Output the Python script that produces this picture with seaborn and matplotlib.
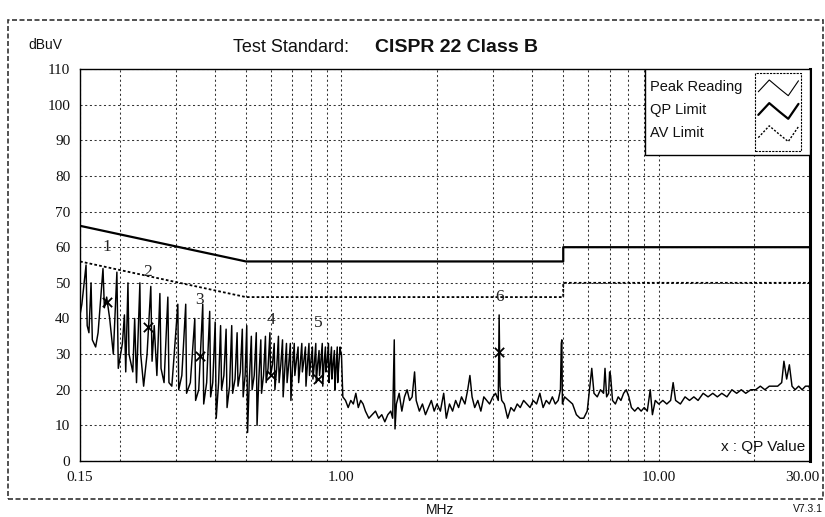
import numpy as np
import pandas as pd
import matplotlib
matplotlib.use("Agg")
import matplotlib.pyplot as plt
import matplotlib.ticker as mticker
import matplotlib.transforms as mtransforms
from matplotlib.patches import Rectangle
from matplotlib.lines import Line2D
import seaborn as sns

# ---------------- data ----------------
# Peak reading trace, band 0.15 - 0.39 MHz
band_a_freq = [0.150, 0.152, 0.1567, 0.158, 0.160, 0.1625, 0.164, 0.168, 0.171, 0.1772,
               0.179, 0.182, 0.186, 0.191, 0.196, 0.198, 0.204, 0.207, 0.209, 0.2124,
               0.214, 0.220, 0.223, 0.226, 0.2316, 0.233, 0.238, 0.244, 0.2507, 0.253,
               0.257, 0.262, 0.2678, 0.270, 0.276, 0.2837, 0.286, 0.292, 0.296, 0.305,
               0.307, 0.314, 0.323, 0.325, 0.334, 0.345, 0.347, 0.355, 0.3655, 0.368,
               0.376, 0.3844, 0.387]
band_a_db = [41, 44, 55, 38, 36, 50, 34, 32, 36, 54,
             43, 46, 40, 30, 53, 26, 33, 41, 25, 50,
             30, 25, 40, 22, 50, 30, 21, 30, 49, 28,
             38, 24, 47, 26, 22, 46, 22, 21, 28, 44,
             20, 24, 44, 19, 22, 40, 17, 20, 44, 16,
             22, 42, 18]

# band 0.39 - 1.0 MHz
band_b_freq = [0.393, 0.400, 0.403, 0.410, 0.416, 0.419, 0.426, 0.433, 0.436, 0.444,
               0.451, 0.454, 0.462, 0.469, 0.472, 0.480, 0.487, 0.490, 0.497, 0.503,
               0.506, 0.512, 0.520, 0.523, 0.531, 0.539, 0.542, 0.549, 0.557, 0.560,
               0.568, 0.576, 0.579, 0.587, 0.595, 0.598, 0.606, 0.614, 0.617, 0.625,
               0.633, 0.636, 0.644, 0.652, 0.655, 0.663, 0.671, 0.674, 0.682, 0.690,
               0.693, 0.701, 0.710, 0.713, 0.721, 0.730, 0.733, 0.741, 0.750, 0.753,
               0.761, 0.770, 0.773, 0.781, 0.790, 0.793, 0.801, 0.810, 0.813, 0.821,
               0.830, 0.833, 0.841, 0.850, 0.853, 0.861, 0.870, 0.873, 0.881, 0.890,
               0.893, 0.901, 0.910, 0.913, 0.921, 0.930, 0.933, 0.941, 0.950, 0.953,
               0.961, 0.970, 0.973, 0.981, 0.990, 0.996]
band_b_db = [22, 39, 12, 22, 38, 20, 24, 37, 15, 21,
             38, 19, 23, 36, 21, 25, 37, 18, 24, 38,
             8, 22, 35, 20, 24, 36, 10, 23, 34, 19,
             24, 35, 22, 26, 36, 24, 27, 33, 20, 26,
             35, 22, 27, 34, 18, 26, 33, 22, 27, 33,
             17, 26, 33, 24, 28, 32, 22, 27, 33, 25,
             28, 32, 21, 27, 33, 24, 28, 32, 23, 27,
             33, 22, 27, 31, 24, 28, 33, 21, 27, 32,
             25, 28, 33, 22, 27, 32, 23, 27, 31, 20,
             26, 32, 22, 27, 32, 30]

# band 1.0 - 5.0 MHz
band_c_freq = [1.00, 1.01, 1.03, 1.05, 1.07, 1.09, 1.11, 1.13, 1.15, 1.17,
               1.19, 1.22, 1.25, 1.28, 1.31, 1.34, 1.37, 1.40, 1.43, 1.45,
               1.467, 1.475, 1.49, 1.52, 1.55, 1.58, 1.61, 1.64, 1.67, 1.70,
               1.72, 1.76, 1.80, 1.84, 1.88, 1.92, 1.96, 2.00, 2.05, 2.10,
               2.14, 2.19, 2.24, 2.29, 2.34, 2.39, 2.45, 2.50, 2.54, 2.58,
               2.63, 2.69, 2.75, 2.81, 2.87, 2.93, 3.00, 3.06, 3.12, 3.14,
               3.16, 3.20, 3.26, 3.34, 3.42, 3.50, 3.58, 3.66, 3.75, 3.84,
               3.93, 4.02, 4.12, 4.22, 4.32, 4.42, 4.52, 4.62, 4.72, 4.82,
               4.90, 4.93, 4.95, 4.97]
band_c_db = [30, 18, 17, 15, 17, 16, 19, 15, 17, 16,
             14, 12, 13, 14, 12, 13, 11, 13, 14, 12,
             34, 9, 16, 19, 14, 18, 20, 17, 18, 25,
             17, 14, 16, 13, 15, 17, 14, 16, 14, 19,
             12, 16, 14, 17, 15, 18, 16, 20, 24, 18,
             15, 17, 14, 18, 17, 16, 18, 19, 17, 41,
             21, 17, 16, 12, 15, 14, 16, 15, 17, 16,
             15, 17, 16, 19, 15, 17, 16, 18, 16, 17,
             20, 33, 34, 16]

# band 5.0 - 30 MHz
band_d_freq = [5.05, 5.20, 5.35, 5.50, 5.65, 5.80, 5.95, 6.05, 6.15, 6.25,
               6.40, 6.55, 6.70, 6.77, 6.85, 6.95, 7.00, 7.05, 7.15, 7.30,
               7.45, 7.60, 7.75, 7.90, 8.05, 8.20, 8.40, 8.60, 8.80, 9.00,
               9.20, 9.40, 9.55, 9.75, 10.0, 10.3, 10.6, 10.9, 11.1, 11.3,
               11.7, 12.1, 12.5, 12.9, 13.3, 13.8, 14.3, 14.8, 15.3, 15.8,
               16.4, 17.0, 17.6, 18.2, 18.8, 19.5, 20.2, 20.9, 21.6, 22.3,
               23.0, 23.7, 24.4, 24.8, 25.3, 25.8, 26.3, 26.9, 27.6, 28.3,
               29.0, 29.7, 30.0]
band_d_db = [18, 17, 16, 13, 12, 12, 14, 20, 26, 19,
             18, 20, 19, 26, 18, 19, 25, 24, 17, 16,
             18, 17, 19, 20, 18, 15, 14, 15, 14, 15,
             14, 20, 13, 17, 16, 17, 16, 17, 22, 17,
             16, 18, 17, 18, 17, 19, 18, 19, 18, 19,
             18, 20, 19, 20, 19, 20, 20, 21, 20, 21,
             21, 21, 22, 28, 23, 27, 21, 20, 21, 20,
             21, 21, 20]

# CISPR 22 Class B limits
limit_freq = [0.15, 0.5, 0.5, 5.0, 5.0, 30.0]
qp_limit_db = [66, 56, 56, 56, 60, 60]
av_limit_db = [56, 46, 46, 46, 50, 50]

# QP measured values
qp_freq = [0.182, 0.245, 0.358, 0.60, 0.846, 3.14]
qp_db = [44.5, 37.5, 29.5, 24.0, 23.0, 30.5]
qp_labels = ["1", "2", "3", "4", "5", "6"]

y_ticks = [0, 10, 20, 30, 40, 50, 60, 70, 80, 90, 100, 110]
x_ticks = [0.15, 1.0, 10.0, 30.0]
x_tick_labels = ["0.15", "1.00", "10.00", "30.00"]

# ---------------- build frames ----------------
peak_df = pd.DataFrame({
    "freq": band_a_freq + band_b_freq + band_c_freq + band_d_freq,
    "dbuv": band_a_db + band_b_db + band_c_db + band_d_db,
})
limit_df = pd.DataFrame({"freq": limit_freq, "qp": qp_limit_db, "av": av_limit_db})
qp_df = pd.DataFrame({"freq": qp_freq, "dbuv": qp_db, "label": qp_labels})

# ---------------- plot ----------------
sns.set_theme(style="white")
plt.rcParams["font.family"] = ["Liberation Sans", "DejaVu Sans"]

fig = plt.figure(figsize=(8.25, 5.17), dpi=100)
ax = fig.add_axes([0.097, 0.1083, 0.885, 0.7582])
ax.set_xscale("log")
ax.set_xlim(0.15, 30)
ax.set_ylim(0, 110)

# grid
ax.xaxis.set_major_locator(mticker.FixedLocator(x_ticks))
ax.xaxis.set_minor_locator(mticker.FixedLocator(
    [0.2, 0.3, 0.4, 0.5, 0.6, 0.7, 0.8, 0.9, 2, 3, 4, 5, 6, 7, 8, 9, 20]))
ax.xaxis.set_major_formatter(mticker.FixedFormatter(x_tick_labels))
ax.xaxis.set_minor_formatter(mticker.NullFormatter())
ax.set_yticks(y_ticks)
ax.grid(True, which="both", color="#333333", linestyle=(0, (2, 2.5)), linewidth=0.75)
ax.set_axisbelow(True)

sns.lineplot(data=peak_df, x="freq", y="dbuv", ax=ax, color="black", linewidth=1.05,
             estimator=None, sort=False)
sns.lineplot(data=limit_df, x="freq", y="qp", ax=ax, color="black", linewidth=1.6,
             estimator=None, sort=False)
sns.lineplot(data=limit_df, x="freq", y="av", ax=ax, color="black", linewidth=1.3,
             linestyle=(0, (1.5, 1.2)), estimator=None, sort=False)
sns.scatterplot(data=qp_df, x="freq", y="dbuv", ax=ax, marker="x", color="black",
                s=45, linewidth=1.3, zorder=5)
for f, d, lbl in zip(qp_freq, qp_db, qp_labels):
    ax.annotate(lbl, (f, d), xytext=(0, 40), textcoords="offset points",
                ha="center", va="center", fontsize=12.5, color="#222222",
                family=["Liberation Serif", "DejaVu Serif"])

ax.set_xlabel("")
ax.set_ylabel("")
ax.tick_params(axis="both", which="major", direction="out", length=5, width=1,
               color="black", labelsize=11, pad=2)
ax.tick_params(axis="both", which="minor", length=0)
for lab in ax.get_xticklabels() + ax.get_yticklabels():
    lab.set_family(["Liberation Serif", "DejaVu Serif"])
    lab.set_color("#111111")
# nudge the last x label so it stays inside the figure
last_lab = ax.get_xticklabels()[-1]
last_lab.set_transform(last_lab.get_transform() +
                       mtransforms.ScaledTranslation(-8 / 100, 0, fig.dpi_scale_trans))

for side in ["left", "bottom", "top"]:
    ax.spines[side].set_color("black")
    ax.spines[side].set_linewidth(1.0)
ax.spines["right"].set_color("black")
ax.spines["right"].set_linewidth(2.2)

# legend box (top right)
ax.add_patch(Rectangle((0.774, 0.78), 0.226, 0.22, transform=ax.transAxes,
                       facecolor="white", edgecolor="black", linewidth=1.0, zorder=6))
ax.add_patch(Rectangle((0.925, 0.79), 0.062, 0.2, transform=ax.transAxes,
                       facecolor="white", edgecolor="black", linewidth=0.8,
                       linestyle=(0, (2, 1)), zorder=7))
legend_names = ["Peak Reading", "QP Limit", "AV Limit"]
legend_y = [0.954, 0.895, 0.837]
legend_styles = [dict(lw=0.8, ls="-"), dict(lw=1.6, ls="-"), dict(lw=1.0, ls=(0, (1.5, 1.2)))]
for name, yy, st in zip(legend_names, legend_y, legend_styles):
    ax.text(0.781, yy, name, transform=ax.transAxes, fontsize=10.5, va="center",
            ha="left", color="#111111", zorder=8)
    zx = [0.929, 0.944, 0.958, 0.970, 0.984]
    zy = [yy - 0.012, yy + 0.018, yy - 0.004, yy - 0.022, yy + 0.016]
    ax.add_line(Line2D(zx, zy, transform=ax.transAxes, color="black",
                       linewidth=st["lw"], linestyle=st["ls"], zorder=8))

ax.text(0.993, 0.035, "x : QP Value", transform=ax.transAxes, fontsize=11,
        ha="right", va="center", color="#111111", zorder=8)

# figure texts
fig.text(0.034, 0.913, "dBuV", fontsize=10, ha="left", va="center", color="#111111")
fig.text(0.282, 0.909, "Test Standard:", fontsize=13, ha="left", va="center",
         color="#111111")
fig.text(0.4545, 0.909, "CISPR 22 Class B", fontsize=14, fontweight="bold",
         ha="left", va="center", color="#111111")
fig.text(0.533, 0.013, "MHz", fontsize=10, ha="center", va="center", color="#111111")
fig.text(0.998, 0.015, "V7.3.1", fontsize=7.5, ha="right", va="center", color="#111111")

# outer dashed frame
fig.patches.append(Rectangle((0.0097, 0.035), 0.988, 0.926, transform=fig.transFigure,
                             fill=False, edgecolor="#333333", linewidth=1.2,
                             linestyle=(0, (3, 1.5))))

fig.savefig("out.png", dpi=100)
